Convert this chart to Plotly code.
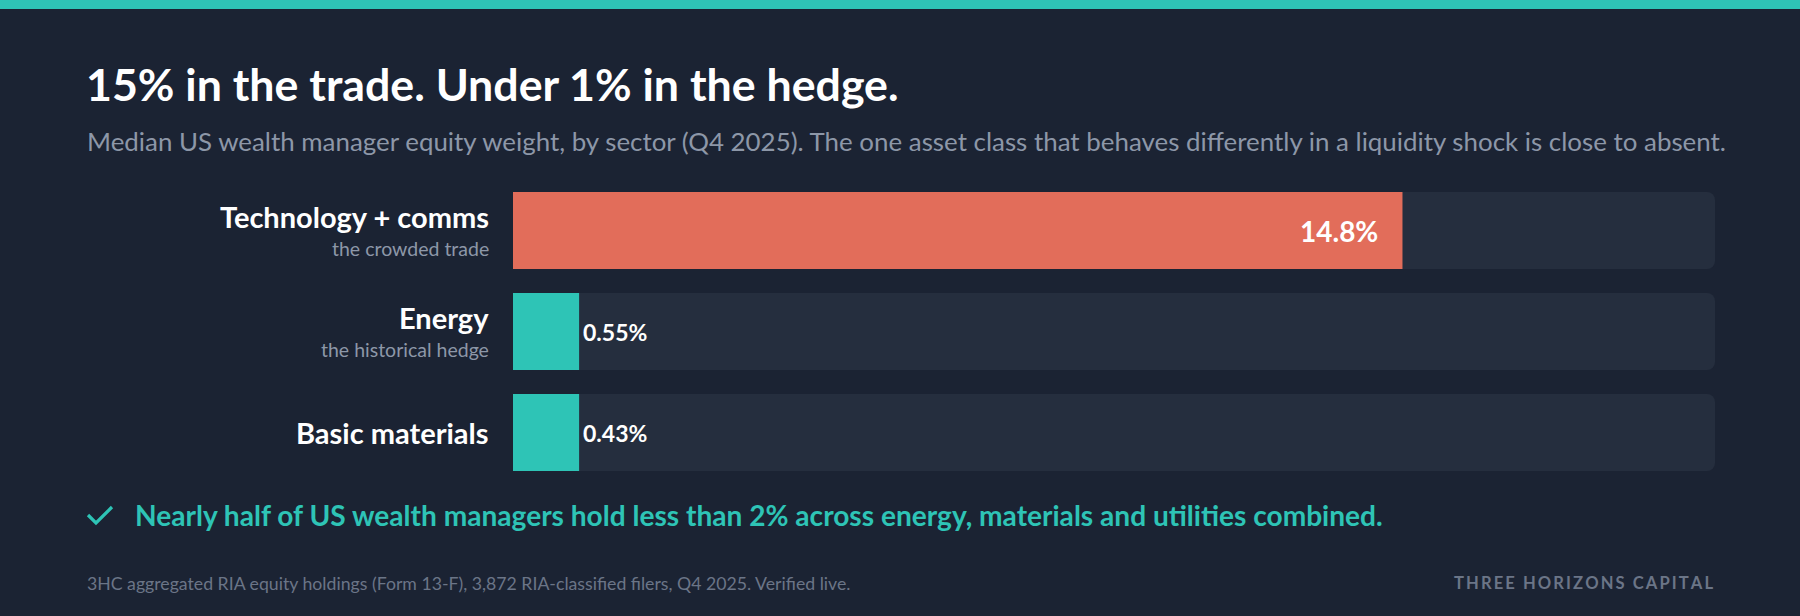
import plotly.graph_objects as go

# median equity weight by sector, Q4 2025 (%)
sectors = ["Technology + comms", "Energy", "Basic materials"]
notes = ["the crowded trade", "the historical hedge", ""]
weights = [14.8, 0.55, 0.43]
value_labels = ["14.8%", "0.55%", "0.43%"]
axis_max = 20

title = "15% in the trade. Under 1% in the hedge."
subtitle = ("Median US wealth manager equity weight, by sector (Q4 2025). "
            "The one asset class that behaves differently in a liquidity shock is close to absent.")
callout = "Nearly half of US wealth managers hold less than 2% across energy, materials and utilities combined."
source = "3HC aggregated RIA equity holdings (Form 13-F), 3,872 RIA-classified filers, Q4 2025. Verified live."
brand = "THREE HORIZONS CAPITAL"

W, H = 1800, 616
BG = "#1b2333"
TRACK = "#252e3e"
CORAL = "#e26d5a"
TEAL = "#2ec4b6"
FONT = "Lato"
MIN_BAR = 1.1  # smallest drawn width so tiny bars stay visible

bar_colors = [CORAL if i == 0 else TEAL for i in range(len(sectors))]
drawn = [max(w, MIN_BAR) for w in weights]

fig = go.Figure()

# background tracks
fig.add_trace(go.Bar(
    y=sectors, x=[axis_max] * len(sectors), orientation="h",
    marker=dict(color=TRACK, cornerradius=8, line=dict(width=0)),
    hoverinfo="skip", showlegend=False,
))
fig.add_trace(go.Bar(
    y=sectors, x=drawn, orientation="h",
    marker=dict(color=bar_colors, cornerradius=8, line=dict(width=0)),
    hoverinfo="skip", showlegend=False,
))

anns = []
for i, s in enumerate(sectors):
    has_note = notes[i] != ""
    anns.append(dict(
        x=491 / W, xref="paper", xanchor="right", y=s, yref="y", yanchor="middle",
        yshift=14 if has_note else 0, showarrow=False, text="<b>%s</b>" % s,
        font=dict(family=FONT, size=29, color="#ffffff"),
    ))
    if has_note:
        anns.append(dict(
            x=491 / W, xref="paper", xanchor="right", y=s, yref="y", yanchor="middle",
            yshift=-18, showarrow=False, text=notes[i],
            font=dict(family=FONT, size=19.5, color="#8d97a8"),
        ))
    if i == 0:
        anns.append(dict(
            x=drawn[i], xref="x", xanchor="right", xshift=-22, y=s, yref="y",
            yanchor="middle", showarrow=False, text="<b>%s</b>" % value_labels[i],
            font=dict(family=FONT, size=28, color="#ffffff"),
        ))
    else:
        anns.append(dict(
            x=drawn[i], xref="x", xanchor="left", xshift=2, y=s, yref="y",
            yanchor="middle", showarrow=False, text="<b>%s</b>" % value_labels[i],
            font=dict(family=FONT, size=23, color="#ffffff"),
        ))

# header, callout, footer
anns += [
    dict(x=84 / W, y=1 - 84 / H, xref="paper", yref="paper", xanchor="left", yanchor="middle",
         showarrow=False, text="<b>%s</b>" % title,
         font=dict(family=FONT, size=44.7, color="#ffffff")),
    dict(x=85 / W, y=1 - 141 / H, xref="paper", yref="paper", xanchor="left", yanchor="middle",
         showarrow=False, text=subtitle,
         font=dict(family=FONT, size=25.9, color="#8d97a8")),
    dict(x=133 / W, y=1 - 515 / H, xref="paper", yref="paper", xanchor="left", yanchor="middle",
         showarrow=False, text="<b>%s</b>" % callout,
         font=dict(family=FONT, size=28.1, color=TEAL)),
    dict(x=85 / W, y=1 - 583 / H, xref="paper", yref="paper", xanchor="left", yanchor="middle",
         showarrow=False, text=source,
         font=dict(family=FONT, size=17.7, color="#6b7587")),
    dict(x=1715 / W, y=1 - 583 / H, xref="paper", yref="paper", xanchor="right", yanchor="middle",
         showarrow=False, text="<b>%s</b>" % "\u2009".join(brand),
         font=dict(family=FONT, size=16.6, color="#6b7587")),
]


def px(x, y):
    return "%.5f,%.5f" % (x / W, 1 - y / H)


check_path = "M %s L %s L %s" % (px(88, 515), px(96, 523), px(112, 507))

fig.update_layout(
    width=W, height=H,
    margin=dict(l=0, r=0, t=0, b=0),
    paper_bgcolor=BG, plot_bgcolor=BG,
    barmode="overlay", bargap=0.238,
    xaxis=dict(domain=[513 / W, 1715 / W], range=[0, axis_max], visible=False, fixedrange=True),
    yaxis=dict(domain=[(H - 483) / H, (H - 180) / H], range=[2.5, -0.5],
               categoryorder="array", categoryarray=sectors, visible=False, fixedrange=True),
    annotations=anns,
    shapes=[
        dict(type="rect", xref="paper", yref="paper", x0=0, x1=1, y0=1 - 9 / H, y1=1,
             fillcolor=TEAL, line=dict(width=0), layer="above"),
        dict(type="path", xref="paper", yref="paper", path=check_path,
             line=dict(color=TEAL, width=3.2), layer="above"),
    ],
    font=dict(family=FONT),
)

fig.write_html("out.html", config={"displayModeBar": False},
               post_script="document.body.style.margin='0';")
